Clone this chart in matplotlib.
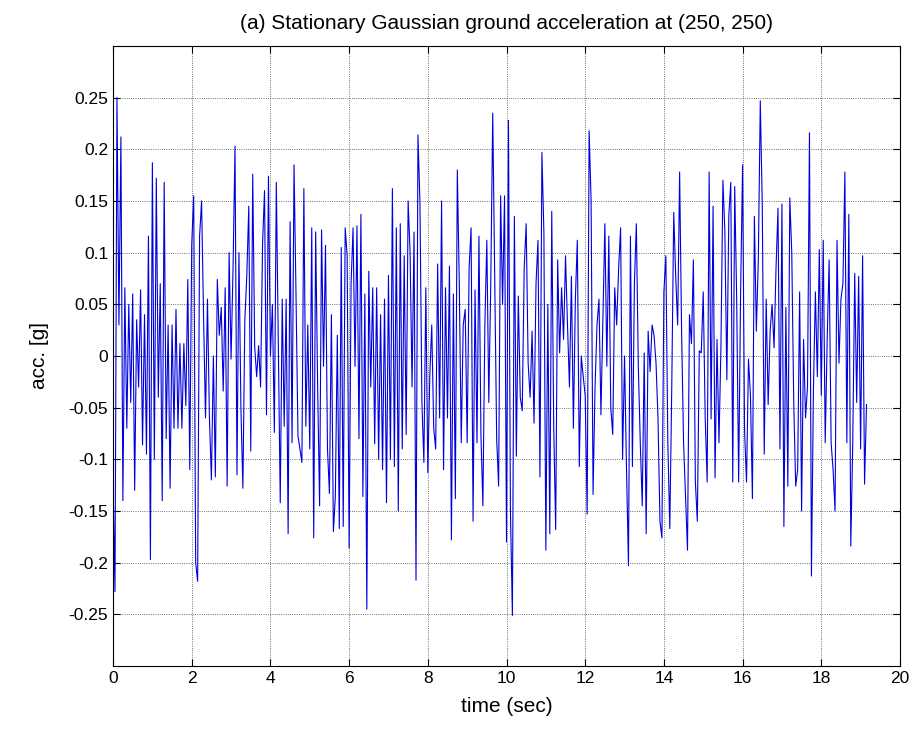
import numpy as np
import matplotlib
matplotlib.use('Agg')
import matplotlib.pyplot as plt

plt.rcParams['font.family'] = ['Liberation Sans', 'DejaVu Sans']

dt = 0.05  # sample spacing (sec)

# ground acceleration [g], one chunk per ~2.5 s
acc_0 = [-0.12, -0.228, 0.25, 0.03, 0.212, -0.14, 0.066, -0.07, 0.05, -0.045,
         0.06, -0.13, 0.035, -0.03, 0.064, -0.086, 0.04, -0.095, 0.116, -0.197,
         0.187, -0.1, 0.172, -0.04, 0.07, -0.14, 0.168, -0.08, 0.03, -0.128,
         0.03, -0.07, 0.045, -0.07, 0.012, -0.07, 0.012, -0.048, 0.074, -0.11,
         0.108, 0.155, -0.2, -0.218, 0.116, 0.15, 0.04, -0.06, 0.055]
acc_1 = [-0.06, -0.12, 0.0, -0.117, 0.074, 0.02, 0.047, -0.034, 0.066, -0.126,
         0.1, -0.003, 0.085, 0.203, -0.115, 0.1, -0.05, -0.128, 0.035, 0.078,
         0.145, -0.092, 0.176, 0.009, -0.02, 0.01, -0.03, 0.108, 0.16, -0.057,
         0.174, 0.0, 0.05, -0.074, 0.168, 0.016, -0.142, 0.055, -0.068, 0.055,
         -0.172, 0.13, -0.084, 0.185, 0.06, -0.077, -0.09, -0.103, 0.162, -0.068,
         0.03]
acc_2 = [-0.09, 0.124, -0.176, 0.12, -0.03, -0.145, 0.122, -0.01, 0.107, -0.09,
         -0.133, 0.04, -0.17, -0.136, 0.02, -0.167, 0.105, -0.165, 0.124, 0.097,
         -0.186, 0.07, 0.124, -0.01, 0.126, -0.08, 0.137, -0.136, 0.06, -0.245,
         0.082, -0.03, 0.066, -0.085, 0.066, -0.1, 0.04, -0.11, 0.055, -0.142,
         0.078, -0.1, 0.162, -0.107, 0.124, -0.15, 0.128, -0.09, 0.097]
acc_3 = [-0.076, 0.15, 0.1, -0.03, 0.12, -0.217, 0.214, 0.149, -0.045, -0.103,
         0.066, -0.113, -0.02, 0.03, -0.07, -0.09, 0.089, -0.06, 0.15, -0.11,
         0.066, -0.06, 0.087, -0.178, 0.06, -0.138, 0.18, 0.07, -0.084, 0.03,
         0.045, -0.084, 0.085, 0.124, -0.16, 0.064, -0.084, 0.116, -0.076, -0.145,
         0.03, 0.112, -0.045, 0.07, 0.235, 0.08, -0.08, -0.126, 0.155, 0.05]
acc_4 = [0.155, -0.18, 0.228, -0.15, -0.251, 0.135, -0.097, 0.058, -0.04, -0.053,
         0.085, 0.128, -0.007, -0.04, 0.024, -0.065, 0.07, 0.112, -0.117, 0.197,
         0.12, -0.188, 0.05, -0.172, 0.14, -0.068, -0.168, 0.093, 0.003, 0.066,
         0.016, 0.097, 0.03, -0.03, 0.077, -0.07, 0.055, 0.112, -0.107, 0.0,
         -0.02, -0.038, -0.153, 0.218, 0.15, -0.134, -0.03, 0.03, 0.055, -0.057]
acc_5 = [0.035, 0.128, -0.01, 0.116, -0.05, -0.076, 0.066, 0.03, 0.085, 0.124,
         -0.1, 0.0, -0.11, -0.203, 0.116, -0.107, 0.07, 0.128, -0.01, -0.084,
         -0.145, 0.003, -0.172, 0.024, -0.015, 0.03, 0.02, -0.007, -0.06, -0.16,
         -0.176, 0.062, 0.097, -0.084, -0.167, -0.03, 0.139, 0.077, 0.03, 0.178,
         0.024, -0.084, -0.136, -0.188, 0.04, 0.012, 0.093, -0.122, -0.16, 0.005]
acc_6 = [0.003, 0.062, -0.06, -0.122, 0.178, -0.061, 0.145, -0.118, 0.016, -0.084,
         0.009, 0.17, 0.12, -0.023, 0.136, 0.168, -0.122, 0.164, 0.055, -0.122,
         0.062, 0.185, -0.072, -0.122, -0.003, -0.038, -0.138, 0.135, 0.024, 0.093,
         0.247, 0.147, -0.095, 0.055, -0.047, 0.024, 0.05, 0.008, 0.085, 0.143,
         -0.09, 0.147, -0.165, 0.047, -0.126, 0.153, 0.1, -0.045, -0.126]
acc_7 = [-0.11, 0.062, -0.15, 0.016, -0.06, -0.03, 0.216, -0.213, -0.034, 0.062,
         -0.02, 0.103, -0.038, 0.112, -0.084, 0.016, 0.093, -0.084, -0.11, -0.15,
         0.112, -0.007, 0.055, 0.07, 0.178, -0.084, 0.137, -0.184, -0.084, 0.08,
         -0.045, 0.077, -0.09, 0.097, -0.124, -0.047]

acc = np.array(acc_0 + acc_1 + acc_2 + acc_3 + acc_4 + acc_5 + acc_6 + acc_7)
t = np.arange(len(acc)) * dt

y_ticks = [-0.25, -0.2, -0.15, -0.1, -0.05, 0, 0.05, 0.1, 0.15, 0.2, 0.25]
y_labels = ['-0.25', '-0.2', '-0.15', '-0.1', '-0.05', '0', '0.05', '0.1', '0.15', '0.2', '0.25']
x_ticks = [0, 2, 4, 6, 8, 10, 12, 14, 16, 18, 20]

fig = plt.figure(figsize=(9.16, 7.38), dpi=100)
ax = fig.add_axes([0.1234, 0.0976, 0.8591, 0.8401])
ax.plot(t, acc, color='#0000dd', lw=0.8)

ax.set_xlim(0, 20)
ax.set_ylim(-0.3, 0.3)
ax.set_xticks(x_ticks)
ax.set_yticks(y_ticks)
ax.set_yticklabels(y_labels)
ax.tick_params(direction='in', top=True, right=True, labelsize=12.5, length=5, width=0.8)
ax.grid(True, color='#444444', linestyle=':', linewidth=0.6)
for s in ax.spines.values():
    s.set_linewidth(0.8)

ax.set_title('(a) Stationary Gaussian ground acceleration at (250, 250)', fontsize=15, pad=12)
ax.set_xlabel('time (sec)', fontsize=15, labelpad=8)
ax.set_ylabel('acc. [g]', fontsize=15, labelpad=14)

fig.savefig('out.png', dpi=100)
